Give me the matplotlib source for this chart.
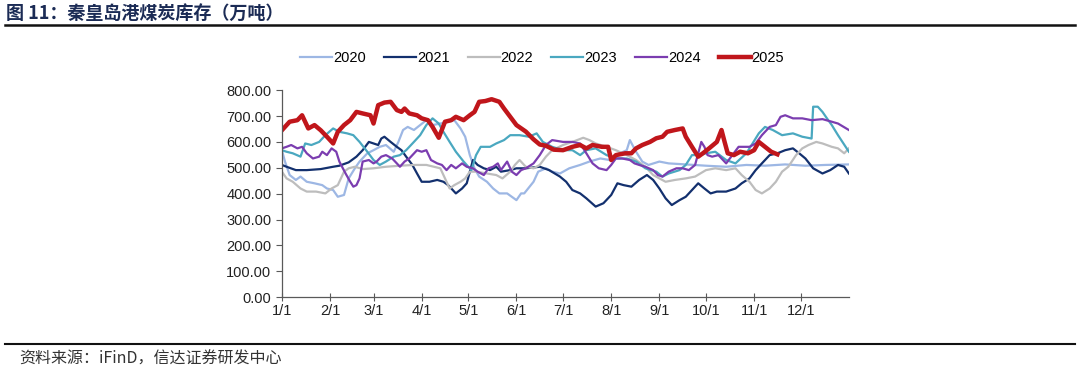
import matplotlib
matplotlib.use("Agg")
import matplotlib.pyplot as plt
from matplotlib.lines import Line2D

plt.rcParams['font.family'] = ['Liberation Sans', 'Noto Sans CJK SC', 'DejaVu Sans']

# day of year (0 = 1/1) and stock (10k tonnes)
d2020 = [0, 2, 5, 9, 12, 16, 21, 26, 29, 33, 36, 40, 43, 47, 50, 55, 59, 63, 67, 72, 75, 78, 81, 85, 89,
         93, 97, 102, 107, 111, 115, 118, 121, 124, 127, 132, 136, 140, 145, 148, 151, 154, 156, 162, 165,
         170, 174, 179, 185, 192, 198, 205, 211, 215, 222, 224, 228, 232, 236, 243, 249, 260, 273, 286,
         299, 311, 324, 337, 350, 365]
v2020 = [568, 524, 472, 453, 466, 446, 440, 433, 420, 414, 388, 395, 459, 498, 524, 556, 568, 581, 588, 562,
         600, 646, 658, 646, 665, 684, 665, 671, 678, 684, 652, 620, 549, 498, 466, 446, 420, 401, 401, 388,
         375, 401, 401, 446, 485, 498, 485, 478, 498, 511, 524, 536, 530, 549, 568, 607, 562, 524, 511, 524,
         517, 513, 508, 504, 511, 508, 513, 508, 511, 513]

d2021 = [0, 3, 9, 16, 25, 33, 37, 43, 48, 52, 56, 59, 62, 64, 66, 70, 74, 77, 80, 84, 87, 90, 95, 100, 104,
         107, 110, 112, 116, 119, 121, 123, 126, 130, 134, 138, 141, 147, 151, 157, 166, 172, 179, 183, 187,
         192, 196, 202, 207, 212, 216, 220, 225, 230, 235, 239, 243, 247, 251, 256, 260, 264, 268, 272, 276,
         280, 286, 292, 296, 301, 305, 309, 314, 319, 324, 329, 333, 337, 342, 348, 353, 358, 362, 365]
v2021 = [511, 504, 491, 491, 495, 504, 508, 521, 543, 568, 600, 594, 588, 613, 620, 600, 581, 568, 543, 511,
         478, 446, 446, 453, 446, 433, 414, 401, 420, 440, 485, 530, 511, 498, 491, 504, 485, 491, 498, 498,
         504, 491, 466, 446, 414, 401, 382, 350, 363, 395, 440, 433, 427, 453, 472, 453, 420, 382, 356, 375,
         388, 414, 440, 420, 401, 408, 408, 420, 440, 459, 491, 517, 549, 556, 568, 575, 556, 536, 498, 478,
         491, 511, 504, 478]

d2022 = [0, 3, 7, 12, 16, 22, 28, 32, 36, 40, 43, 47, 52, 59, 67, 76, 85, 93, 102, 105, 108, 111, 115, 118,
         121, 125, 132, 138, 142, 147, 150, 153, 157, 162, 166, 170, 174, 181, 187, 194, 198, 202, 209, 215,
         222, 228, 234, 239, 247, 253, 260, 266, 273, 279, 286, 292, 296, 301, 305, 309, 314, 318, 322, 326,
         331, 335, 339, 344, 348, 354, 358, 362, 365]
v2022 = [485, 459, 446, 420, 408, 408, 401, 420, 433, 485, 498, 504, 495, 498, 504, 508, 511, 511, 498, 459,
         420, 433, 446, 459, 485, 485, 478, 472, 459, 485, 511, 530, 504, 498, 511, 543, 568, 588, 600, 616,
         607, 594, 581, 568, 549, 530, 504, 472, 446, 453, 459, 466, 491, 498, 491, 498, 472, 446, 414, 401,
         420, 446, 485, 504, 549, 575, 588, 600, 594, 581, 575, 556, 575]

d2023 = [0, 3, 7, 12, 15, 19, 24, 28, 33, 37, 42, 46, 50, 55, 59, 63, 67, 72, 76, 80, 85, 89, 93, 97, 101,
         104, 108, 112, 117, 120, 122, 125, 128, 134, 138, 143, 147, 153, 159, 164, 168, 174, 181, 187, 192,
         196, 202, 209, 215, 222, 228, 234, 241, 245, 249, 256, 260, 264, 269, 273, 279, 286, 292, 299, 303,
         307, 311, 316, 322, 329, 335, 341, 342, 345, 348, 351, 354, 358, 365]
v2023 = [568, 562, 556, 543, 594, 588, 600, 626, 652, 639, 633, 626, 600, 562, 530, 511, 524, 543, 549, 568,
         600, 626, 665, 691, 671, 639, 600, 562, 524, 504, 491, 549, 581, 581, 594, 607, 626, 626, 620, 633,
         600, 581, 568, 568, 549, 568, 575, 549, 536, 536, 524, 498, 485, 466, 478, 491, 511, 549, 549, 556,
         562, 530, 517, 556, 594, 633, 658, 646, 626, 633, 620, 613, 736, 736, 716, 690, 665, 626, 562]

d2024 = [0, 3, 6, 10, 13, 16, 20, 24, 26, 29, 32, 35, 37, 41, 44, 46, 48, 50, 52, 56, 59, 61, 64, 67, 71, 74,
         76, 79, 82, 87, 90, 93, 96, 100, 103, 106, 109, 112, 116, 119, 123, 126, 130, 133, 136, 139, 141,
         145, 148, 151, 154, 157, 162, 166, 170, 174, 181, 187, 192, 196, 200, 204, 209, 212, 215, 219, 224,
         227, 230, 234, 239, 242, 245, 249, 254, 258, 262, 266, 270, 272, 274, 277, 281, 286, 290, 294, 301,
         305, 309, 314, 318, 321, 324, 329, 335, 341, 348, 354, 358, 365]
v2024 = [575, 581, 588, 575, 581, 556, 536, 543, 562, 549, 575, 562, 524, 478, 446, 427, 433, 459, 524, 530,
         517, 524, 543, 549, 536, 517, 504, 524, 536, 568, 562, 568, 530, 517, 511, 491, 511, 498, 517, 504,
         498, 485, 472, 498, 504, 517, 491, 524, 485, 472, 491, 498, 517, 549, 588, 607, 600, 600, 594, 556,
         517, 498, 491, 511, 536, 536, 530, 517, 511, 504, 491, 472, 466, 485, 498, 498, 491, 511, 600, 581,
         549, 543, 549, 517, 549, 581, 581, 594, 626, 658, 665, 697, 703, 691, 691, 684, 688, 678, 671, 646]

d2025 = [0, 5, 10, 13, 17, 21, 25, 29, 33, 36, 40, 44, 48, 52, 57, 59, 62, 66, 70, 74, 77, 79, 82, 87, 90,
         94, 97, 101, 105, 109, 112, 117, 121, 124, 127, 131, 135, 140, 143, 147, 151, 157, 162, 166, 170,
         175, 181, 187, 192, 196, 200, 206, 210, 212, 215, 221, 225, 228, 232, 237, 241, 245, 248, 253, 258,
         260, 264, 268, 271, 275, 280, 283, 285, 287, 291, 295, 300, 304, 307, 311, 315, 319]
v2025 = [645, 678, 684, 703, 652, 665, 645, 620, 594, 639, 665, 684, 716, 710, 703, 671, 742, 752, 755, 723,
         716, 729, 710, 703, 691, 684, 658, 616, 678, 684, 697, 684, 703, 716, 755, 758, 765, 755, 729, 697,
         665, 640, 610, 590, 585, 570, 568, 581, 588, 575, 588, 581, 581, 530, 549, 556, 556, 575, 588, 600,
         614, 620, 639, 646, 652, 620, 581, 543, 556, 575, 600, 646, 600, 556, 549, 562, 556, 568, 600, 581,
         562, 552]

series = [("2020", d2020, v2020, "#9DB7E4", 1.6),
          ("2021", d2021, v2021, "#13306E", 1.6),
          ("2022", d2022, v2022, "#BDBDBD", 1.6),
          ("2023", d2023, v2023, "#4AA8C0", 1.6),
          ("2024", d2024, v2024, "#7B3DB0", 1.6),
          ("2025", d2025, v2025, "#C0161B", 3.2)]

month_days = [0, 31, 59, 90, 120, 151, 181, 212, 243, 273, 304, 334]
month_labels = ["1/1", "2/1", "3/1", "4/1", "5/1", "6/1", "7/1", "8/1", "9/1", "10/1", "11/1", "12/1"]
yticks = [0, 100, 200, 300, 400, 500, 600, 700, 800]

fig = plt.figure(figsize=(10.8, 3.71), dpi=100)
ax = fig.add_axes([0.261, 0.199, 0.525, 0.558])

for name, d, v, c, lw in series:
    ax.plot(d, v, color=c, lw=lw, label=name, solid_joinstyle='round')

ax.set_xlim(0, 365)
ax.set_ylim(0, 800)
ax.set_xticks(month_days)
ax.set_xticklabels(month_labels)
ax.set_yticks(yticks)
ax.set_yticklabels([f"{t:.2f}" for t in yticks])
ax.tick_params(labelsize=10.5, colors="#222222", width=0.8)
ax.tick_params(axis="y", direction="out", length=4, color="#595959")
ax.tick_params(axis="x", direction="inout", length=6, pad=2, color="#595959")
for s in ["top", "right"]:
    ax.spines[s].set_visible(False)
for s in ["left", "bottom"]:
    ax.spines[s].set_color("#595959")
    ax.spines[s].set_linewidth(0.9)

handles = [Line2D([0], [0], color=c, lw=lw) for _, _, _, c, lw in series]
fig.legend(handles, [s[0] for s in series], loc="center", bbox_to_anchor=(0.502, 0.843), ncol=6,
           frameon=False, fontsize=10.5, handlelength=2.2, handletextpad=0.05, columnspacing=1.25)

fig.text(0.006, 0.963, "图 11：秦皇岛港煤炭库存（万吨）", fontsize=13, fontweight="bold",
         color="#1b2b55", family=["Noto Sans CJK SC", "DejaVu Sans"], va="center")
fig.add_artist(Line2D([0.005, 0.995], [0.932, 0.932], color="#111111", lw=1.8))
fig.add_artist(Line2D([0.005, 0.995], [0.073, 0.073], color="#111111", lw=1.5))
fig.text(0.018, 0.033, "资料来源：iFinD，信达证券研发中心", fontsize=11.5, style="italic",
         color="#333333", family=["Noto Sans CJK SC", "DejaVu Sans"], va="center")

fig.savefig("out.png", dpi=100)
